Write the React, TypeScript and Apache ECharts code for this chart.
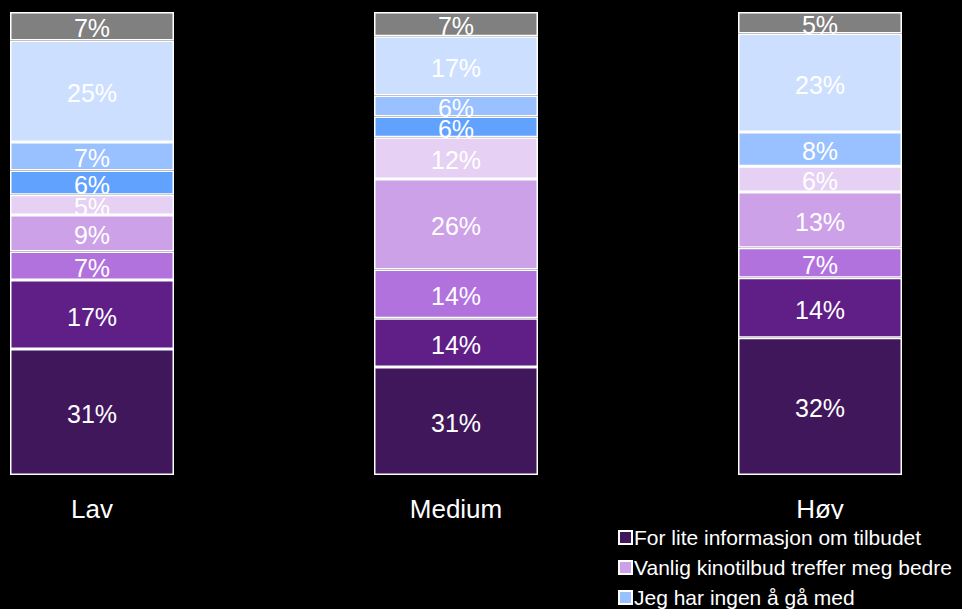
import React, { useEffect, useRef } from "react";
import * as echarts from "echarts";

const categories = ["Lav", "Medium", "Høy"];

const seriesNames = [
  "For lite informasjon om tilbudet",
  "Serie 2",
  "Serie 3",
  "Vanlig kinotilbud treffer meg bedre",
  "Serie 5",
  "Serie 6",
  "Jeg har ingen å gå med",
  "Serie 8",
  "Serie 9",
];

const seriesColors = [
  "#40175A",
  "#5F1F87",
  "#B272DE",
  "#CDA1E8",
  "#E6D0F4",
  "#62A2FF",
  "#99C0FF",
  "#CCDFFF",
  "#808080",
];

// raw percentages per series (bottom to top), per category [Lav, Medium, Høy]
const s1 = [31, 31, 32];
const s2 = [17, 14, 14];
const s3 = [7, 14, 7];
const s4 = [9, 26, 13];
const s5 = [5, 12, 6];
const s6 = [6, 6, 0];
const s7 = [7, 6, 8];
const s8 = [25, 17, 23];
const s9 = [7, 7, 5];

const rawSeries = [s1, s2, s3, s4, s5, s6, s7, s8, s9];

const legendNames = [
  "For lite informasjon om tilbudet",
  "Vanlig kinotilbud treffer meg bedre",
  "Jeg har ingen å gå med",
];

export default function App() {
  const ref = useRef<HTMLDivElement>(null);

  useEffect(() => {
    if (!ref.current) return;
    const chart = echarts.init(ref.current, null, { renderer: "svg" });

    const totals = categories.map((_, ci) =>
      rawSeries.reduce((acc, s) => acc + s[ci], 0)
    );

    const series = rawSeries.map((s, si) => ({
      name: seriesNames[si],
      type: "bar",
      stack: "total",
      barWidth: 164,
      data: s.map((v, ci) => (v / totals[ci]) * 100),
      itemStyle: {
        color: seriesColors[si],
        borderColor: "#ffffff",
        borderWidth: 1.5,
      },
      label: {
        show: true,
        position: "inside",
        offset: [0, 2],
        color: "#ffffff",
        fontSize: 25,
        fontFamily: "Liberation Sans, Arial, sans-serif",
        formatter: (p: any) => {
          const raw = rawSeries[p.seriesIndex][p.dataIndex];
          return raw > 0 ? raw + "%" : "";
        },
      },
    }));

    chart.setOption({
      animation: false,
      backgroundColor: "#000000",
      grid: { left: 92, right: 142, top: 12, bottom: 134, containLabel: false },
      xAxis: {
        type: "category",
        data: categories,
        boundaryGap: false,
        axisLine: { show: false },
        axisTick: { show: false },
        splitLine: { show: false },
        axisLabel: {
          color: "#ffffff",
          fontSize: 26,
          margin: 21,
          fontFamily: "Liberation Sans, Arial, sans-serif",
        },
      },
      yAxis: {
        type: "value",
        min: 0,
        max: 100,
        show: false,
      },
      legend: {
        data: legendNames,
        orient: "vertical",
        left: 618,
        top: 519,
        height: 200,
        padding: [8, 0, 0, 0],
        backgroundColor: "#000000",
        itemWidth: 13,
        itemHeight: 13,
        itemGap: 9,
        icon: "rect",
        selectedMode: false,
        textStyle: {
          color: "#ffffff",
          fontSize: 21,
          fontFamily: "Liberation Sans, Arial, sans-serif",
          padding: [0, 0, 0, -3],
        },
      },
      series,
    });

    return () => chart.dispose();
  }, []);

  return (
    <div
      ref={ref}
      style={{
        position: "fixed",
        left: 0,
        top: 0,
        width: 962,
        height: 609,
        background: "#000",
      }}
    />
  );
}
